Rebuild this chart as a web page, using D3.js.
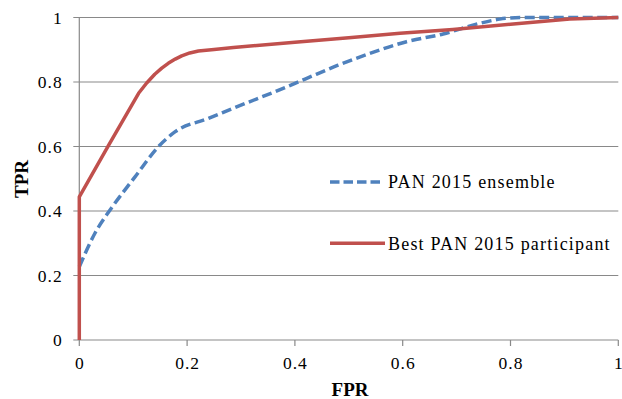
<!DOCTYPE html>
<html>
<head>
<meta charset="utf-8">
<script src="https://cdn.jsdelivr.net/npm/d3@7"></script>
<style>
body { margin: 0; background: #fff; }
svg { font-family: "Liberation Serif", "Times New Roman", serif; }
</style>
</head>
<body>
<svg width="622" height="399"></svg>
<script>
// ROC curves
var bestFpr = [0, 0, 0.054, 0.11, 0.125, 0.14, 0.153, 0.165, 0.178, 0.19, 0.205, 0.221, 0.25, 0.286, 0.4, 0.5, 0.595, 0.693, 0.8, 0.91, 1];
var bestTpr = [0, 0.444, 0.603, 0.765, 0.797, 0.824, 0.843, 0.858, 0.871, 0.881, 0.89, 0.896, 0.901, 0.907, 0.923, 0.937, 0.951, 0.963, 0.979, 0.995, 1];

var ensFpr = [0, 0.029, 0.06, 0.103, 0.147, 0.178, 0.239, 0.301, 0.363, 0.42, 0.48, 0.533, 0.607, 0.675, 0.743, 0.78, 0.82, 0.9, 1];
var ensTpr = [0.227, 0.331, 0.41, 0.505, 0.6, 0.646, 0.687, 0.729, 0.77, 0.81, 0.852, 0.885, 0.925, 0.949, 0.982, 0.995, 1, 1, 1];

var seriesNames = ["PAN 2015 ensemble", "Best PAN 2015 participant"];
var xTicks = [0, 0.2, 0.4, 0.6, 0.8, 1];
var yTicks = [0, 0.2, 0.4, 0.6, 0.8, 1];

var svg = d3.select("svg"),
	margin = {top: 17.5, right: 4, bottom: 59, left: 79.3},
	width = 618.3 - margin.left,
	height = 340 - margin.top;

var x = d3.scaleLinear().domain([0, 1]).range([0, width]),
	y = d3.scaleLinear().domain([0, 1]).range([height, 0]);

var g = svg.append("g")
	.attr("transform", "translate(" + margin.left + "," + margin.top + ")");

// gridlines
g.selectAll(".grid")
	.data(yTicks)
	.enter().append("line")
	.attr("class", "grid")
	.attr("x1", -6).attr("x2", width)
	.attr("y1", function(d){ return y(d) }).attr("y2", function(d){ return y(d) })
	.attr("stroke", "#898989").attr("stroke-width", 1.2);

// y axis line
g.append("line")
	.attr("x1", 0).attr("x2", 0).attr("y1", 0).attr("y2", height)
	.attr("stroke", "#898989").attr("stroke-width", 1.2);

// x tick marks
g.selectAll(".xtick")
	.data(xTicks)
	.enter().append("line")
	.attr("x1", function(d){ return x(d) }).attr("x2", function(d){ return x(d) })
	.attr("y1", height).attr("y2", height + 6)
	.attr("stroke", "#898989").attr("stroke-width", 1.2);

g.selectAll(".ylab")
	.data(yTicks)
	.enter().append("text")
	.attr("x", -16.6)
	.attr("y", function(d){ return y(d) })
	.attr("dy", "0.35em")
	.attr("text-anchor", "end")
	.style("font-size", "17.5px")
	.style("letter-spacing", "1px")
	.text(function(d){ return d3.format("")(d) });

g.selectAll(".xlab")
	.data(xTicks)
	.enter().append("text")
	.attr("x", function(d){ return x(d) + 0.5 })
	.attr("y", height + 23)
	.attr("dy", "0.35em")
	.attr("text-anchor", "middle")
	.style("font-size", "17.5px")
	.style("letter-spacing", "1px")
	.text(function(d){ return d3.format("")(d) });

// axis titles
svg.append("text")
	.attr("transform", "translate(28,179) rotate(-90)")
	.attr("text-anchor", "middle")
	.style("font-size", "19px")
	.style("font-weight", "bold")
	.text("TPR");

svg.append("text")
	.attr("x", 350)
	.attr("y", 396)
	.attr("text-anchor", "middle")
	.style("font-size", "19px")
	.style("font-weight", "bold")
	.text("FPR");

var lineX = d3.line()
	.x(function(d){ return x(d[0]) })
	.y(function(d){ return y(d[1]) })
	.curve(d3.curveMonotoneX);

// red curve goes straight up at fpr=0, keep it piecewise linear
var lineLin = d3.line()
	.x(function(d){ return x(d[0]) })
	.y(function(d){ return y(d[1]) });

var ens = d3.zip(ensFpr, ensTpr),
	best = d3.zip(bestFpr, bestTpr);

g.append("path")
	.datum(ens)
	.attr("fill", "none")
	.attr("stroke", "#4f81bd")
	.attr("stroke-width", 3.5)
	.attr("stroke-dasharray", "10,4.5")
	.attr("d", lineX);

g.append("path")
	.datum(best)
	.attr("fill", "none")
	.attr("stroke", "#c0504d")
	.attr("stroke-width", 3.5)
	.attr("stroke-linejoin", "round")
	.attr("d", lineLin);

// legend
var legend = svg.selectAll(".legend")
	.data(seriesNames)
	.enter().append("g")
	.attr("transform", function(d, i){ return "translate(330," + (182 + i * 61.3) + ")" });

legend.append("line")
	.attr("x1", 0).attr("x2", function(d, i){ return i ? 55 : 50 })
	.attr("stroke", function(d, i){ return i ? "#c0504d" : "#4f81bd" })
	.attr("stroke-width", 3.5)
	.attr("stroke-dasharray", function(d, i){ return i ? null : "9.5,4" });

legend.append("text")
	.attr("x", 58)
	.attr("dy", "0.35em")
	.style("font-size", "18px")
	.style("letter-spacing", "1.2px")
	.text(function(d){ return d });
</script>
</body>
</html>
